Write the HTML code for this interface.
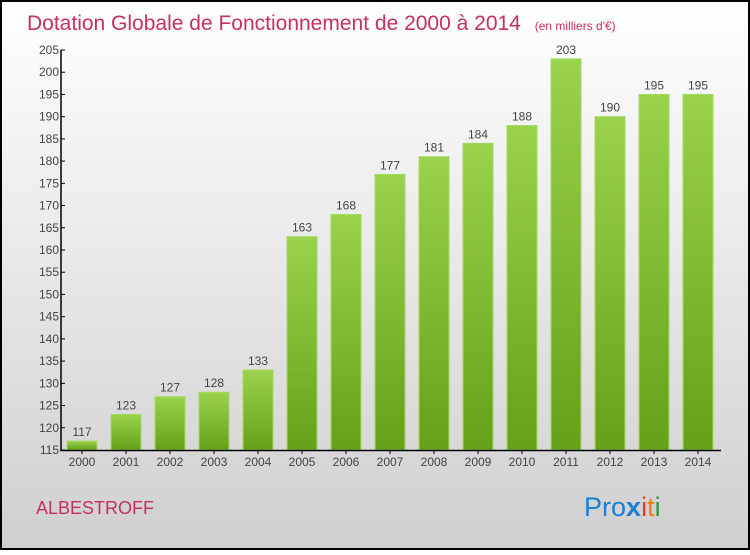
<!DOCTYPE html>
<html><head><meta charset="utf-8"><style>
body{margin:0;width:750px;height:550px;overflow:hidden;font-family:"Liberation Sans",sans-serif}
</style></head><body>
<svg width="750" height="550" xmlns="http://www.w3.org/2000/svg">
<defs>
<linearGradient id="bg" x1="0" y1="0" x2="0" y2="1"><stop offset="0" stop-color="#ffffff"/><stop offset="1" stop-color="#cfcfcf"/></linearGradient>
<linearGradient id="bar" x1="0" y1="0" x2="0" y2="1"><stop offset="0" stop-color="#9ad24e"/><stop offset="1" stop-color="#66a01a"/></linearGradient>
</defs>
<rect x="1" y="1" width="748" height="548" fill="url(#bg)" stroke="#000" stroke-width="2"/>
<text x="27" y="30" font-size="21" fill="#c8305f">Dotation Globale de Fonctionnement de 2000 à 2014 <tspan font-size="12" dx="8">(en milliers d'€)</tspan></text>
<g id="plot"></g>
<text x="36" y="514" font-size="18" fill="#c8305f">ALBESTROFF</text>
<text x="584" y="516" font-size="27"><tspan fill="#1a7fd6">Pro</tspan><tspan fill="#1a7fd6" font-weight="bold">x</tspan><tspan fill="#e8382b">i</tspan><tspan fill="#f07e10">t</tspan><tspan fill="#2a9a3a">i</tspan></text>
</svg>
<script>
const years=["2000","2001","2002","2003","2004","2005","2006","2007","2008","2009","2010","2011","2012","2013","2014"];
const values=[117,123,127,128,133,163,168,177,181,184,188,203,190,195,195];
const yTicks=[115,120,125,130,135,140,145,150,155,160,165,170,175,180,185,190,195,200,205];
const NS="http://www.w3.org/2000/svg";
const g=document.getElementById('plot');
const y=v=>450-(v-115)*400/90;
const x=i=>82+i*44;
function mk(t,a){const e=document.createElementNS(NS,t);for(const k in a)e.setAttribute(k,a[k]);g.appendChild(e);return e;}
years.forEach((yr,i)=>{
 const r=mk('rect',{x:x(i)-15,y:y(values[i]),width:30,height:450-y(values[i]),fill:'url(#bar)',stroke:'#a6da60','stroke-width':1});
 
 
 const t=mk('text',{x:x(i),y:y(values[i])-5,'font-size':12,fill:'#444','text-anchor':'middle'});t.textContent=values[i];
 
 
 const l=mk('text',{x:x(i),y:466,'font-size':12,fill:'#444','text-anchor':'middle'});l.textContent=yr;
 
 
 mk('line',{x1:x(i),x2:x(i),y1:450,y2:454,stroke:'#000'});
});
yTicks.forEach(v=>{
 mk('line',{x1:61,x2:65,y1:y(v),y2:y(v),stroke:'#000'});
 const t=mk('text',{x:59,y:y(v)+4,'font-size':12,fill:'#444','text-anchor':'end'});t.textContent=v;
 
 
});
const ya=mk('line',{x1:61,x2:61,y1:50,y2:451,stroke:'#000','stroke-width':1.5});


const xa=mk('line',{x1:60,x2:721,y1:450.5,y2:450.5,stroke:'#000','stroke-width':1.5});


</script>
</body></html>
